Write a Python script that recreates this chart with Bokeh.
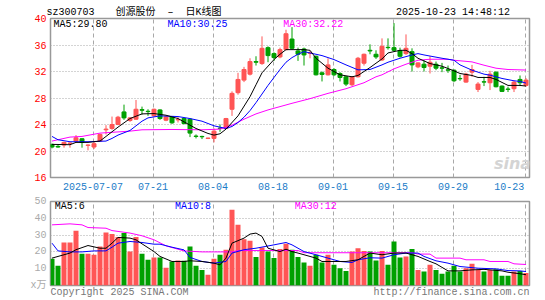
from bokeh.plotting import figure
from bokeh.layouts import column
from bokeh.models import Range1d, FixedTicker, Label, ColumnDataSource, LinearAxis
from bokeh.embed import file_html
from bokeh.resources import INLINE

# ---------------- data ----------------
idx = list(range(80))
open_ = [21.0, 20.7, 20.9, 21.15, 21.5, 21.85, 20.85, 20.6, 21.5, 23.2,
         23.4, 24.0, 25.9, 24.6, 24.8, 26.25, 26.0, 25.3, 26.2, 24.65,
         25.15, 24.7, 24.9, 24.8, 22.25, 22.2, 21.9, 21.9, 23.45, 23.4,
         26.3, 28.8, 30.7, 31.6, 33.5, 33.2, 35.6, 34.7, 34.2, 35.3,
         36.9, 35.1, 35.4, 34.75, 34.3, 31.8, 31.5, 32.3, 31.7, 31.2,
         30.0, 31.2, 33.25, 35.2, 34.6, 33.75, 35.65, 35.6, 35.15, 34.7,
         35.0, 32.7, 33.1, 32.8, 33.1, 32.55, 32.25, 32.2, 30.95, 30.4,
         31.9, 29.3, 30.45, 30.3, 31.9, 29.8, 29.35, 29.4, 30.8, 29.9]
close = [20.6, 20.6, 21.3, 21.2, 22.0, 21.3, 20.9, 21.1, 22.5, 23.3,
         24.0, 25.1, 25.0, 25.0, 26.3, 26.15, 25.95, 26.3, 24.9, 25.15,
         24.25, 24.75, 24.15, 22.7, 22.2, 22.15, 21.95, 23.0, 23.4, 24.9,
         28.7, 30.8, 32.3, 33.5, 33.4, 35.5, 34.4, 34.1, 35.3, 37.7,
         35.5, 34.6, 34.5, 34.8, 31.5, 31.55, 33.0, 31.5, 31.1, 30.1,
         31.2, 34.0, 34.6, 35.1, 34.2, 35.8, 35.6, 35.2, 34.3, 35.5,
         33.0, 33.3, 32.6, 33.4, 32.5, 32.5, 32.2, 30.6, 30.9, 31.6,
         32.3, 30.1, 30.4, 31.6, 29.7, 29.0, 29.3, 30.4, 30.3, 30.7]
high = [21.1, 20.9, 21.4, 21.3, 22.4, 21.9, 21.0, 21.4, 22.6, 23.9,
        25.2, 25.3, 27.0, 25.1, 27.7, 26.7, 26.3, 26.4, 26.3, 25.3,
        25.2, 25.1, 25.0, 24.9, 22.5, 22.3, 22.0, 23.4, 24.0, 25.0,
        29.0, 31.8, 32.7, 34.0, 34.3, 37.3, 35.8, 34.9, 35.6, 38.3,
        38.7, 35.6, 35.6, 35.1, 34.4, 32.0, 34.0, 32.5, 31.9, 31.3,
        31.3, 34.2, 34.7, 36.1, 35.2, 37.0, 37.0, 39.3, 35.6, 37.6,
        35.5, 33.4, 33.7, 34.3, 33.5, 33.3, 32.9, 32.3, 31.5, 31.8,
        33.0, 30.4, 31.2, 32.1, 32.0, 29.9, 29.7, 30.6, 31.4, 31.0]
low = [20.4, 20.5, 20.5, 20.5, 21.3, 20.5, 20.1, 20.3, 21.4, 22.5,
       23.2, 23.9, 24.7, 24.4, 24.7, 25.5, 25.3, 25.2, 24.7, 24.5,
       24.1, 24.3, 24.0, 22.1, 21.9, 21.8, 21.8, 21.3, 22.9, 23.3,
       25.3, 28.5, 30.4, 31.4, 32.9, 33.0, 33.4, 33.6, 34.0, 35.2,
       35.3, 33.6, 32.9, 34.0, 31.4, 30.5, 31.4, 31.3, 30.5, 29.8,
       29.8, 31.1, 32.9, 34.6, 33.9, 33.6, 35.3, 35.0, 34.1, 34.5,
       32.0, 32.5, 32.0, 31.7, 32.2, 31.9, 31.8, 30.4, 30.6, 30.3,
       31.2, 28.9, 29.8, 29.2, 29.6, 28.9, 28.9, 28.9, 29.8, 29.7]
volume = [15.9, 11.7, 25.6, 25.6, 32.6, 18.9, 18.9, 18.3, 23.2, 31.6,
          30.6, 28.8, 31.2, 20.2, 28.8, 18.9, 15.3, 16.7, 16.7, 10.5,
          14.3, 14.9, 14.7, 23.2, 11.7, 9.3, 6.4, 15.9, 18.3, 21.3,
          45.1, 36.1, 27.6, 26.6, 16.9, 22.6, 20.2, 16.3, 21.7, 24.8,
          21.3, 16.9, 13.7, 11.7, 18.3, 13.7, 18.3, 12.3, 10.3, 8.7,
          20.2, 22.2, 20.6, 20.2, 14.9, 20.6, 12.3, 26.2, 16.7, 17.3,
          21.8, 9.3, 8.3, 12.3, 9.3, 7.0, 8.3, 11.7, 8.3, 10.3,
          12.9, 9.3, 8.3, 9.3, 9.6, 5.8, 5.8, 8.3, 8.7, 7.4]

ma5_i = [0, 3, 4, 6, 8, 9, 11, 13, 15, 17, 19, 21, 23, 24, 26, 27, 28, 29, 31, 33,
         34, 35, 37, 38, 39, 42, 43, 44, 46, 48, 50, 51, 53, 55, 56, 58, 59, 60, 61, 63,
         65, 67, 68, 70, 71, 73, 74, 76, 78, 79]
ma5_v = [21.0, 20.95, 21.3, 21.3, 21.5, 22.2, 23.6, 24.9, 25.6, 25.65, 25.4, 24.9, 23.9, 23.4, 22.65, 22.4, 22.6, 23.3, 25.3, 28.2,
         30.0, 31.8, 33.8, 34.6, 35.3, 35.3, 35.2, 34.0, 32.5, 31.5, 31.2, 31.4, 32.6, 33.9, 34.8, 35.2, 35.2, 34.7, 34.0, 33.2,
         32.8, 32.1, 31.7, 31.4, 31.1, 31.1, 30.8, 29.9, 29.9, 29.8]
ma10_i = [0, 1, 3, 6, 9, 10, 11, 13, 14, 15, 16, 18, 21, 23, 25, 27, 29, 30, 31, 32,
          33, 34, 35, 36, 37, 38, 39, 40, 41, 42, 45, 47, 49, 51, 53, 55, 56, 58, 60, 61,
          62, 65, 67, 68, 70, 72, 73, 75, 77, 78, 79]
ma10_v = [22.2, 21.7, 21.4, 21.4, 21.5, 21.9, 22.4, 23.1, 23.8, 24.5, 25.0, 25.3, 25.2, 24.9, 24.5, 23.8, 23.4, 23.7, 24.3, 25.1,
          26.1, 27.3, 28.6, 29.9, 31.1, 32.3, 33.4, 34.1, 34.6, 35.0, 34.4, 33.8, 33.0, 32.25, 32.3, 33.0, 33.4, 34.0, 34.5, 34.7,
          34.5, 34.0, 33.7, 33.0, 32.2, 31.6, 31.45, 30.95, 30.6, 30.5, 30.25]
ma30_i = [0, 3, 5, 8, 13, 15, 20, 25, 28, 30, 32, 34, 36, 38, 40, 43, 46, 49, 52, 54,
          55, 57, 59, 61, 63, 66, 67, 70, 72, 74, 76, 79]
ma30_v = [21.5, 22.1, 22.2, 22.7, 23.0, 23.2, 23.25, 23.2, 23.3, 23.9, 24.8, 25.6, 26.2, 26.7, 27.2, 27.9, 28.7, 29.4, 30.3, 31.2,
          31.5, 32.4, 33.1, 33.7, 33.85, 33.85, 33.7, 33.45, 32.95, 32.5, 32.3, 32.22]

vma5_i = [0, 1, 3, 4, 6, 8, 9, 10, 11, 13, 14, 15, 17, 18, 20, 22, 23, 25, 27, 28,
          29, 30, 32, 33, 34, 35, 36, 38, 39, 40, 41, 42, 44, 45, 47, 49, 51, 52, 53, 55,
          57, 59, 61, 63, 64, 66, 68, 70, 72, 75, 76, 78, 79]
vma5_v = [16.3, 17.3, 19.3, 21.3, 23.8, 22.2, 22.2, 25.2, 28.6, 28.2, 27.2, 24.8, 20.2, 17.3, 14.3, 14.3, 14.7, 14.3, 13.3, 12.3,
          16.3, 25.2, 28.2, 30.6, 31.2, 29.2, 22.2, 20.2, 21.6, 20.2, 19.3, 18.3, 16.3, 14.3, 14.3, 14.3, 15.3, 17.3, 19.3, 18.3,
          19.3, 19.3, 17.3, 14.3, 12.9, 8.7, 8.7, 9.3, 9.6, 8.7, 7.9, 7.0, 6.4]
vma10_i = [0, 1, 3, 5, 7, 9, 10, 11, 13, 15, 17, 18, 20, 22, 23, 25, 27, 29, 30, 32,
           34, 37, 39, 40, 42, 44, 46, 48, 50, 51, 53, 55, 57, 59, 61, 62, 64, 66, 68, 71,
           74, 76, 78, 79]
vma10_v = [25.2, 20.6, 20.0, 20.0, 20.6, 20.6, 22.8, 25.2, 26.2, 25.6, 24.6, 24.6, 22.8, 21.2, 16.7, 14.3, 13.3, 14.3, 19.3, 21.3,
           22.2, 24.2, 25.6, 24.2, 20.2, 18.3, 16.3, 14.3, 13.7, 15.3, 16.5, 16.3, 18.3, 19.3, 19.3, 17.3, 14.7, 13.3, 11.3, 10.3,
           9.9, 8.9, 8.7, 8.3]
vma30_i = [0, 3, 5, 6, 9, 10, 13, 15, 17, 19, 21, 22, 25, 30, 31, 41, 42, 60, 61, 63,
           64, 68, 69, 72, 73, 76, 77, 79]
vma30_v = [36.1, 36.7, 36.1, 34.5, 34.1, 32.7, 31.2, 29.6, 27.2, 23.6, 21.6, 20.6, 20.0, 20.0, 20.8, 20.8, 19.5, 19.5, 18.7, 18.7,
           16.3, 16.3, 15.3, 15.3, 14.3, 14.3, 12.9, 12.5]

tick_idx = [7, 17, 27, 37, 47, 57, 67, 79]
tick_labels = ["2025-07-07", "07-21", "08-04", "08-18", "09-01", "09-15", "09-29", "10-23"]
price_ticks = [16, 20, 24, 28, 32, 36, 40]
vol_ticks = [0, 10, 20, 30, 40, 50]
vol_tick_labels = ["x万", "10", "20", "30", "40", "50"]
header_texts = ["sz300703", "创源股份\u00a0\u00a0–\u00a0\u00a0日K线图", "2025-10-23 14:48:12"]
footer_texts = ["Copyright 2025 SINA.COM", "http://finance.sina.com.cn"]

# ---------------- styling ----------------
RED = "#ff5555"
GREEN = "#00a000"
MONO = "Liberation Mono"
MIXED = "Liberation Mono, Noto Sans CJK SC"
GRIDC = "#a8a8a8"
DATEC = "#1a7cc8"

colors = [RED if c >= o else GREEN for o, c in zip(open_, close)]
src = ColumnDataSource(dict(
    x=idx, o=open_, c=close, h=high, l=low, v=volume,
    top=[max(o, c) for o, c in zip(open_, close)],
    bot=[min(o, c) for o, c in zip(open_, close)],
    color=colors))

X0, X1 = -0.25, 79.583
grid_pos = [t - 1.0 / 6 for t in tick_idx]
# label anchor of the last date is pulled left so it stays inside the frame
date_label_pos = grid_pos[:-1] + [76.2]
header_pos = [3.08, 19.42, 66.83]
footer_pos = [11.25, 66.58]


def quiet_axis(ax, color, font=MONO, size="10px", standoff=3):
    ax.axis_line_color = None
    ax.major_tick_line_color = None
    ax.minor_tick_line_color = None
    ax.major_tick_out = 0
    ax.major_tick_in = 0
    ax.major_label_standoff = standoff
    ax.major_label_text_font = font
    ax.major_label_text_font_size = size
    ax.major_label_text_color = color


# ---------------- price panel ----------------
p1 = figure(width=545, height=194, x_range=Range1d(X0, X1), y_range=Range1d(16, 40),
            output_backend="svg", toolbar_location=None, title=None,
            min_border_left=50, min_border_right=16, min_border_top=18, min_border_bottom=17)
p1.background_fill_color = "white"
p1.border_fill_color = "white"
p1.outline_line_color = "#999999"
p1.outline_line_width = 1.5

p1.xaxis.ticker = FixedTicker(ticks=date_label_pos)
p1.xaxis.major_label_overrides = dict(zip(date_label_pos, tick_labels))
quiet_axis(p1.xaxis[0], DATEC, standoff=5)

head = LinearAxis(ticker=FixedTicker(ticks=header_pos),
                  major_label_overrides=dict(zip(header_pos, header_texts)))
quiet_axis(head, "#000000", font=MIXED, size="10px", standoff=1)
p1.add_layout(head, "above")

p1.yaxis.ticker = FixedTicker(ticks=price_ticks)
quiet_axis(p1.yaxis[0], "#ff0000", standoff=4)

p1.xgrid.ticker = FixedTicker(ticks=grid_pos)
p1.xgrid.grid_line_color = GRIDC
p1.xgrid.grid_line_dash = "4 3"
p1.ygrid.ticker = FixedTicker(ticks=[20, 24, 28, 32, 36])
p1.ygrid.grid_line_color = GRIDC
p1.ygrid.grid_line_dash = "1 2"

p1.segment(x0="x", y0="l", x1="x", y1="h", line_color="color", line_width=1, source=src)
p1.vbar(x="x", width=0.6667, top="top", bottom="bot", fill_color="color",
        line_color="color", line_width=1, source=src)
p1.line(ma30_i, ma30_v, line_color="#ff00ff", line_width=1)
p1.line(ma10_i, ma10_v, line_color="#0000ff", line_width=1)
p1.line(ma5_i, ma5_v, line_color="#000000", line_width=1)


def lab(p, x, y, text, color="#000000", size="10px", font=MONO, align="left", **kw):
    p.add_layout(Label(x=x, y=y, text=text, text_color=color, text_font_size=size,
                       text_font=font, text_align=align, text_baseline="middle", **kw))


lab(p1, 0.25, 39.14, "MA5:29.80")
lab(p1, 19.25, 39.14, "MA10:30.25", color="#0000ff")
lab(p1, 38.53, 39.14, "MA30:32.22", color="#ff00ff")
lab(p1, 76.75, 18.1, "sina", color="#d4d4d4", size="16px", font="DejaVu Sans",
    align="center", text_font_style="bold italic")

# ---------------- volume panel ----------------
p2 = figure(width=545, height=106, x_range=p1.x_range, y_range=Range1d(0, 50),
            output_backend="svg", toolbar_location=None, title=None,
            min_border_left=50, min_border_right=16, min_border_top=7, min_border_bottom=14)
p2.background_fill_color = "white"
p2.border_fill_color = "white"
p2.outline_line_color = "#999999"
p2.outline_line_width = 1.5

p2.xaxis.ticker = FixedTicker(ticks=footer_pos)
p2.xaxis.major_label_overrides = dict(zip(footer_pos, footer_texts))
quiet_axis(p2.xaxis[0], "#777777", standoff=1)
p2.xgrid.ticker = FixedTicker(ticks=grid_pos)
p2.xgrid.grid_line_color = GRIDC
p2.xgrid.grid_line_dash = "4 3"

p2.yaxis.ticker = FixedTicker(ticks=vol_ticks)
p2.yaxis.major_label_overrides = dict(zip(vol_ticks, vol_tick_labels))
quiet_axis(p2.yaxis[0], "#aaaaaa", font=MIXED, standoff=4)
p2.ygrid.ticker = FixedTicker(ticks=[10, 20, 30, 40])
p2.ygrid.grid_line_color = GRIDC
p2.ygrid.grid_line_dash = "1 2"

p2.vbar(x="x", width=0.8333, top="v", bottom=0, fill_color="color", line_color=None, source=src)
p2.line(vma30_i, vma30_v, line_color="#ff00ff", line_width=1)
p2.line(vma10_i, vma10_v, line_color="#0000ff", line_width=1)
p2.line(vma5_i, vma5_v, line_color="#000000", line_width=1)

lab(p2, 0.47, 46.9, "MA5:6")
lab(p2, 20.5, 46.9, "MA10:8", color="#0000ff")
lab(p2, 40.47, 46.9, "MA30:12", color="#ff00ff")

layout = column(p1, p2, spacing=0)
open("out.html", "w").write(file_html(layout, INLINE))
